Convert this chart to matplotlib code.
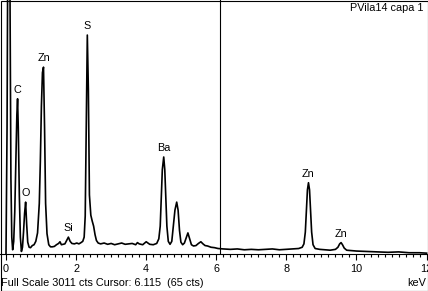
import numpy as np
import matplotlib
matplotlib.use("Agg")
import matplotlib.pyplot as plt
from matplotlib.ticker import MultipleLocator

plt.rcParams['font.family'] = ['Liberation Sans', 'DejaVu Sans']

# spectrum: energy (keV) and counts
kev = [0.00, 0.03, 0.06, 0.09, 0.12, 0.14, 0.165, 0.19, 0.22, 0.25, 0.28, 0.31, 0.33, 0.35,
       0.38, 0.41, 0.44, 0.47, 0.50, 0.53, 0.56, 0.59, 0.62, 0.66, 0.70, 0.75, 0.80, 0.85,
       0.90, 0.95, 0.98, 1.01, 1.04, 1.07, 1.10, 1.13, 1.17, 1.22, 1.27, 1.32, 1.38, 1.44,
       1.50, 1.54, 1.58, 1.63, 1.68, 1.73, 1.78, 1.83, 1.88, 1.95, 2.02, 2.08, 2.14, 2.19,
       2.23, 2.26, 2.29, 2.32, 2.35, 2.38, 2.42, 2.46, 2.50, 2.54, 2.58, 2.63, 2.70, 2.80,
       2.90, 3.00, 3.10, 3.20, 3.30, 3.40, 3.50, 3.60, 3.70, 3.75, 3.80, 3.90, 4.00, 4.05,
       4.10, 4.20, 4.30, 4.36, 4.40, 4.43, 4.46, 4.50, 4.53, 4.56, 4.59, 4.63, 4.68, 4.73,
       4.77, 4.82, 4.87, 4.91, 4.95, 4.99, 5.04, 5.09, 5.14, 5.19, 5.24, 5.29, 5.35, 5.42,
       5.49, 5.56, 5.62, 5.68, 5.75, 5.85, 5.95, 6.05, 6.20, 6.40, 6.60, 6.80, 7.00, 7.20,
       7.40, 7.60, 7.80, 8.00, 8.20, 8.35, 8.45, 8.50, 8.54, 8.57, 8.60, 8.63, 8.66, 8.69,
       8.72, 8.76, 8.82, 8.95, 9.10, 9.25, 9.40, 9.47, 9.52, 9.56, 9.60, 9.65, 9.72, 9.85,
       10.0, 10.3, 10.6, 10.9, 11.2, 11.5, 11.8, 12.0]
cts = [0, 1500, 4500, 5000, 2600, 900, 200, 50, 150, 500, 1100, 1650, 1840, 1500,
       700, 200, 30, 80, 260, 480, 615, 350, 140, 80, 75, 100, 110, 150,
       250, 600, 1100, 1750, 2150, 2215, 1500, 600, 240, 110, 85, 85, 90, 110,
       125, 145, 110, 115, 120, 160, 200, 150, 125, 120, 130, 120, 135, 150,
       200, 450, 1550, 2595, 1950, 700, 460, 390, 330, 230, 160, 130, 120, 130,
       115, 125, 110, 120, 130, 115, 120, 125, 110, 135, 120, 110, 145, 130,
       115, 110, 125, 180, 330, 650, 1000, 1150, 1000, 650, 330, 150, 115, 150,
       320, 520, 615, 520, 280, 140, 110, 130, 190, 250, 180, 110, 95, 100,
       125, 145, 120, 100, 95, 80, 75, 65, 60, 55, 60, 50, 55, 50,
       55, 60, 50, 55, 60, 65, 80, 120, 260, 500, 760, 845, 760, 500,
       260, 110, 65, 55, 50, 45, 55, 80, 120, 135, 110, 70, 45, 40,
       35, 30, 25, 20, 25, 15, 15, 10]

# peak labels: element, peak energy, peak height
peak_names = ['C', 'O', 'Zn', 'Si', 'S', 'Ba', 'Zn', 'Zn']
peak_kev = [0.33, 0.56, 1.07, 1.78, 2.32, 4.50, 8.63, 9.56]
peak_cts = [1840, 615, 2215, 200, 2595, 1150, 845, 135]

full_scale = 3011
cursor_kev = 6.115
cursor_cts = 65
title = 'PVila14 capa 1'

fs = 7.8

fig = plt.figure(figsize=(4.28, 2.91), dpi=100)
ax = fig.add_axes([0, 37 / 291, 1, 254 / 291])

ax.plot(kev, cts, color='black', lw=1.2)
ax.axvline(cursor_kev, color='black', lw=0.8)

for name, x, y in zip(peak_names, peak_kev, peak_cts):
    ax.annotate(name, (x, y), xytext=(0, 6.5), textcoords='offset points',
                ha='center', va='center', fontsize=fs)

ax.set_xlim(-6 / 35.05, 422 / 35.05)
ax.set_ylim(0, full_scale)
for s in ['left', 'right', 'top']:
    ax.spines[s].set_visible(False)
ax.spines['bottom'].set_linewidth(0.8)
ax.set_yticks([])
ax.xaxis.set_major_locator(MultipleLocator(2))
ax.xaxis.set_minor_locator(MultipleLocator(0.2))
ax.tick_params(axis='x', which='major', length=4, width=0.8, pad=3, labelsize=fs)
ax.tick_params(axis='x', which='minor', length=2.5, width=0.8)
ax.set_facecolor('white')

ax.text(0.99, 1 - 8 / 254, title, transform=ax.transAxes, ha='right', va='center', fontsize=fs)

fig.text(1 / 428, 1 - 283 / 291,
         'Full Scale %d cts Cursor: %.3f  (%d cts)' % (full_scale, cursor_kev, cursor_cts),
         ha='left', va='center', fontsize=fs)
fig.text(426 / 428, 1 - 283 / 291, 'keV', ha='right', va='center', fontsize=fs)

fig.add_artist(plt.Rectangle((0.5 / 428, 0.5 / 291), 427 / 428, 290 / 291,
                             transform=fig.transFigure, fill=False, lw=0.8, color='black'))

fig.savefig('out.png', dpi=100)
